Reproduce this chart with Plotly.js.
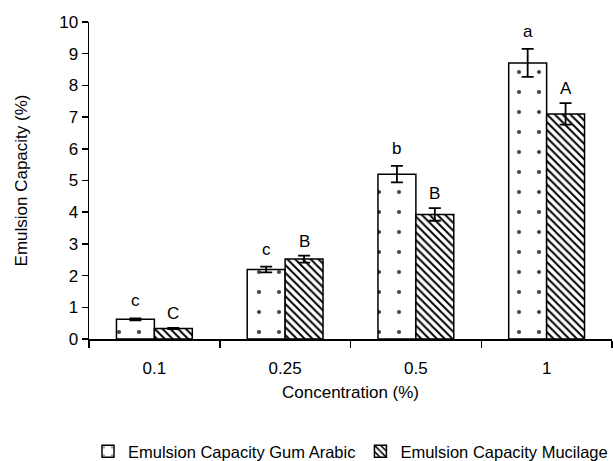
<!DOCTYPE html>
<html><head><meta charset="utf-8">
<script src="https://cdn.plot.ly/plotly-3.0.1.min.js"></script>
<style>html,body{margin:0;padding:0;background:#fff}#c{width:613px;height:461px}</style>
</head><body><div id="c"></div>
<script>
const categories = ['0.1','0.25','0.5','1'];
const gumArabic = [0.62, 2.19, 5.2, 8.71];
const gumArabicErr = [0.03, 0.09, 0.26, 0.44];
const mucilage = [0.33, 2.52, 3.93, 7.1];
const mucilageErr = [0.02, 0.11, 0.2, 0.34];
const gumLetters = ['c','c','b','a'];
const mucLetters = ['C','B','B','A'];
const names = ['Emulsion Capacity Gum Arabic','Emulsion Capacity Mucilage'];

const FONT = 'Liberation Sans, Arial, sans-serif';
const FS = 17;
const BARGAP = 0.42;
const traces = [
  {type:'bar', name:names[0], x:categories, y:gumArabic,
   error_y:{type:'data', array:gumArabicErr, visible:true, color:'#000', thickness:1.8, width:6},
   marker:{color:'#fff', line:{color:'#000', width:1.5},
     pattern:{shape:'.', fgcolor:'#444', bgcolor:'#fff', size:20, solidity:0.035}}},
  {type:'bar', name:names[1], x:categories, y:mucilage,
   error_y:{type:'data', array:mucilageErr, visible:true, color:'#000', thickness:1.8, width:6},
   marker:{color:'#fff', line:{color:'#000', width:1.5},
     pattern:{shape:'\\', fgcolor:'#000', bgcolor:'#fff', size:5.5, solidity:0.35}}}
];
const half = (1 - BARGAP) / 4;
const annotations = [];
categories.forEach((c,i)=>{
  annotations.push({x:i - half, y:gumArabic[i]+gumArabicErr[i], xref:'x', yref:'y', text:gumLetters[i],
    showarrow:false, yanchor:'bottom', yshift:6, font:{family:FONT,size:FS,color:'#000'}});
  annotations.push({x:i + half, y:mucilage[i]+mucilageErr[i], xref:'x', yref:'y', text:mucLetters[i],
    showarrow:false, yanchor:'bottom', yshift:3, font:{family:FONT,size:FS,color:'#000'}});
});
annotations.push({text:'Concentration (%)', xref:'paper', yref:'paper', x:0.5, y:-0.17, yanchor:'middle',
  showarrow:false, font:{family:FONT,size:FS,color:'#000'}});

const layout = {
  width:613, height:461,
  margin:{l:89, r:1, t:22, b:122, autoexpand:false},
  paper_bgcolor:'#fff', plot_bgcolor:'#fff',
  font:{family:FONT, size:FS, color:'#000'},
  barmode:'group', bargap:BARGAP, bargroupgap:0,
  showlegend:true,
  legend:{orientation:'h', x:0.5, xanchor:'center', y:-0.30, yanchor:'top',
    font:{family:FONT,size:16.5,color:'#000'}, itemwidth:30, traceorder:'normal', tracegroupgap:0},
  xaxis:{type:'category', showline:true, linecolor:'#000', linewidth:1.5,
    ticks:'outside', tickson:'boundaries', ticklen:7, tickwidth:1.5, tickcolor:'#000',
    ticklabelstandoff:13,
    showgrid:false, zeroline:false, tickfont:{family:FONT,size:FS,color:'#000'}},
  yaxis:{range:[0,10], dtick:1, showline:true, linecolor:'#000', linewidth:1.5,
    ticks:'outside', ticklen:6, tickwidth:1.5, tickcolor:'#000', showgrid:false, zeroline:false,
    tickfont:{family:FONT,size:FS,color:'#000'},
    title:{text:'Emulsion Capacity (%)', standoff:27, font:{family:FONT,size:FS,color:'#000'}}},
  annotations:annotations
};
Plotly.newPlot('c', traces, layout, {displayModeBar:false, staticPlot:true});
</script></body></html>
